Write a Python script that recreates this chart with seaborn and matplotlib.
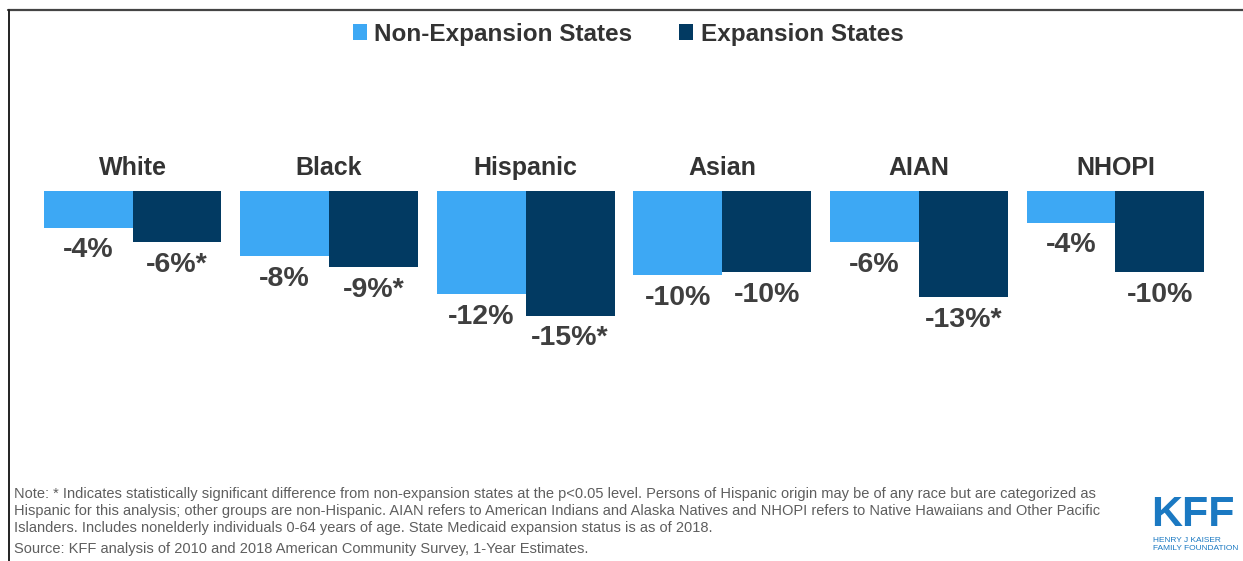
import matplotlib
matplotlib.use("Agg")
import matplotlib.pyplot as plt
from matplotlib.patches import Patch
from matplotlib.lines import Line2D
import seaborn as sns
import pandas as pd

# Change in uninsured rate, 2010-2018, by race/ethnicity (percentage points)
groups = ["White", "Black", "Hispanic", "Asian", "AIAN", "NHOPI"]
series_names = ["Non-Expansion States", "Expansion States"]
non_expansion = [-4.4, -7.8, -12.4, -10.1, -6.2, -3.8]
expansion = [-6.2, -9.2, -15.0, -9.8, -12.8, -9.8]
# statistically significant vs. non-expansion states (p<0.05)
significant_non = [False, False, False, False, False, False]
significant_exp = [True, True, True, False, True, False]

note_lines = [
    "Note: * Indicates statistically significant difference from non-expansion states at the p<0.05 level. Persons of Hispanic origin may be of any race but are categorized as",
    "Hispanic for this analysis; other groups are non-Hispanic. AIAN refers to American Indians and Alaska Natives and NHOPI refers to Native Hawaiians and Other Pacific",
    "Islanders. Includes nonelderly individuals 0-64 years of age. State Medicaid expansion status is as of 2018.",
]
source_line = "Source: KFF analysis of 2010 and 2018 American Community Survey, 1-Year Estimates."

LIGHT = "#3DA8F4"
DARK = "#023A62"
TEXT = "#3F3F3F"
NOTE = "#5E5E5E"
KFF_BLUE = "#1B79C2"

df = pd.DataFrame({
    "group": groups * 2,
    "series": [series_names[0]] * len(groups) + [series_names[1]] * len(groups),
    "value": non_expansion + expansion,
})

sns.set_theme(style="white")
plt.rcParams["font.family"] = ["Liberation Sans", "DejaVu Sans"]

W, H = 1243, 561
fig = plt.figure(figsize=(W / 100, H / 100), dpi=100)
fig.patch.set_facecolor("white")

ax = fig.add_axes([34.2 / W, (H - 357) / H, 1179.6 / W, (357 - 149.5) / H])
sns.barplot(data=df, x="group", y="value", hue="series", order=groups,
            hue_order=series_names, palette=[LIGHT, DARK], width=0.905,
            gap=0, linewidth=0, saturation=1, legend=False, ax=ax)
ax.set_ylim(-20, 5)
ax.set_xlim(-0.5, len(groups) - 0.5)
ax.axis("off")

# value labels under each bar
for cont, flags in zip(ax.containers, [significant_non, significant_exp]):
    for bar, flag in zip(cont, flags):
        v = bar.get_height()
        label = f"{round(v):d}%" + ("*" if flag else "")
        ax.text(bar.get_x() + bar.get_width() / 2, v - 2.75, label,
                ha="center", va="center", fontsize=20.5, fontweight="bold",
                color=TEXT)

# category headers above the bar pairs
for i, g in enumerate(groups):
    ax.text(i, 2.75, g, ha="center", va="center", fontsize=18,
            fontweight="bold", color="#333333")

# legend
handles = [Patch(facecolor=LIGHT, edgecolor="none"),
           Patch(facecolor=DARK, edgecolor="none")]
leg = fig.legend(handles, series_names, loc="center",
                 bbox_to_anchor=(628 / W, 1 - 34 / H), ncol=2, frameon=False,
                 handlelength=0.6, handleheight=0.6, handletextpad=0.3,
                 columnspacing=1.9,
                 prop={"size": 17.5, "weight": "bold"})
for t in leg.get_texts():
    t.set_color("#333333")

# notes and source
for k, line in enumerate(note_lines):
    fig.text(14 / W, 1 - (494 + 17 * k) / H, line, ha="left", va="center",
             fontsize=10.55, color=NOTE)
fig.text(14 / W, 1 - 549 / H, source_line, ha="left", va="center",
         fontsize=10.55, color=NOTE)

# logo
fig.text(1151 / W, 1 - 526 / H, "KFF", ha="left", va="baseline",
         fontsize=31, fontweight="bold", color=KFF_BLUE)
fig.text(1153 / W, 1 - 540 / H, "HENRY J KAISER", ha="left", va="center",
         fontsize=6, color=KFF_BLUE)
fig.text(1153 / W, 1 - 549 / H, "FAMILY FOUNDATION", ha="left", va="center",
         fontsize=6, color=KFF_BLUE)

# frame lines along the top and left edge
fig.add_artist(Line2D([8 / W, 1], [1 - 10 / H, 1 - 10 / H],
                      transform=fig.transFigure, color="#444444", lw=1.6))
fig.add_artist(Line2D([9 / W, 9 / W], [0, 1 - 10 / H],
                      transform=fig.transFigure, color="#222222", lw=1.4))

fig.savefig("out.png", dpi=100, facecolor="white")
